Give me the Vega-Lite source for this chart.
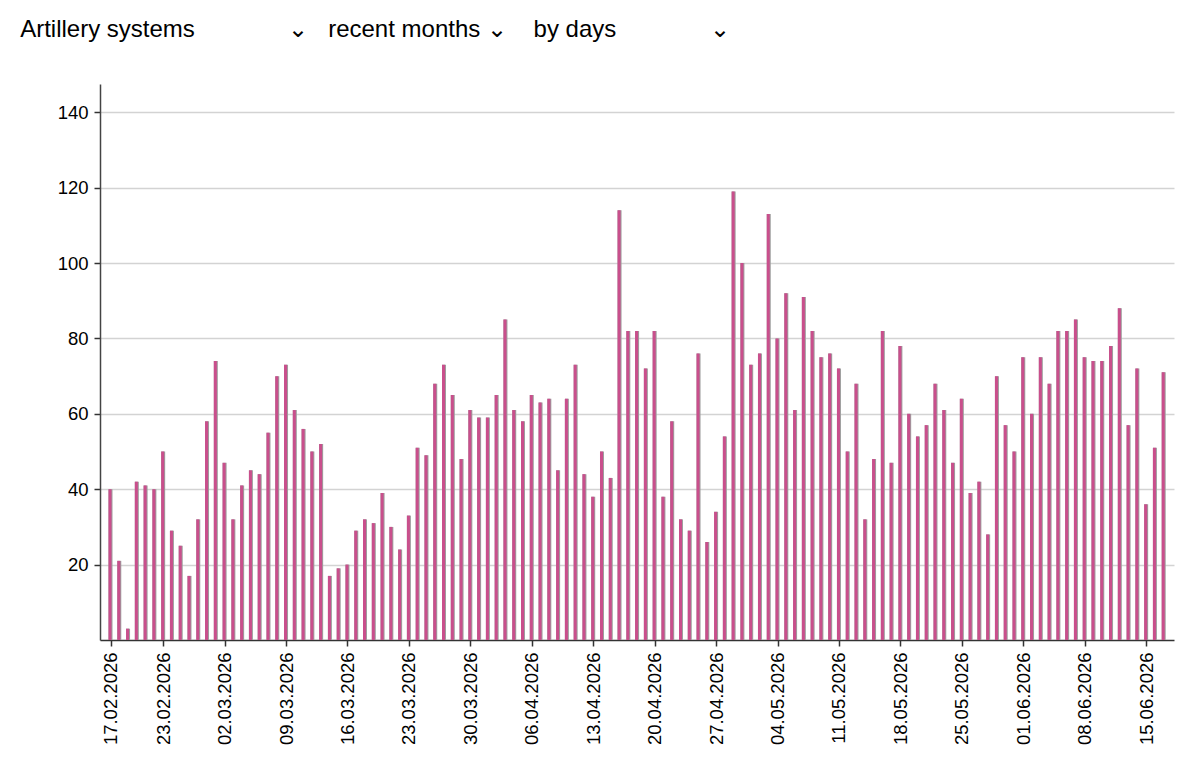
{
  "$schema": "https://vega.github.io/schema/vega-lite/v6.json",
  "width": 1074,
  "height": 556,
  "autosize": {"type": "none"},
  "padding": {"left": 100, "top": 84, "right": 26, "bottom": 141},
  "background": "white",
  "config": {
    "font": "Liberation Sans",
    "view": {"stroke": null}
  },
  "title": {
    "text": "Artillery systems\u00a0\u00a0\u00a0\u00a0\u00a0\u00a0\u00a0\u00a0\u00a0\u00a0\u00a0\u00a0\u00a0\u00a0⌄\u00a0\u00a0\u00a0recent months\u00a0⌄\u00a0\u00a0\u00a0\u00a0by days\u00a0\u00a0\u00a0\u00a0\u00a0\u00a0\u00a0\u00a0\u00a0\u00a0\u00a0\u00a0\u00a0\u00a0⌄",
    "anchor": "start",
    "fontSize": 24,
    "fontWeight": "normal",
    "color": "#000000",
    "font": "Liberation Sans",
    "baseline": "alphabetic",
    "offset": 0,
    "dx": -37,
    "dy": -23
  },
  "data": {
    "values": [
      {"date": "2026-02-17", "value": 40}, {"date": "2026-02-18", "value": 21}, {"date": "2026-02-19", "value": 3},
      {"date": "2026-02-20", "value": 42}, {"date": "2026-02-21", "value": 41}, {"date": "2026-02-22", "value": 40},
      {"date": "2026-02-23", "value": 50}, {"date": "2026-02-24", "value": 29}, {"date": "2026-02-25", "value": 25},
      {"date": "2026-02-26", "value": 17}, {"date": "2026-02-27", "value": 32}, {"date": "2026-02-28", "value": 58},
      {"date": "2026-03-01", "value": 74}, {"date": "2026-03-02", "value": 47}, {"date": "2026-03-03", "value": 32},
      {"date": "2026-03-04", "value": 41}, {"date": "2026-03-05", "value": 45}, {"date": "2026-03-06", "value": 44},
      {"date": "2026-03-07", "value": 55}, {"date": "2026-03-08", "value": 70}, {"date": "2026-03-09", "value": 73},
      {"date": "2026-03-10", "value": 61}, {"date": "2026-03-11", "value": 56}, {"date": "2026-03-12", "value": 50},
      {"date": "2026-03-13", "value": 52}, {"date": "2026-03-14", "value": 17}, {"date": "2026-03-15", "value": 19},
      {"date": "2026-03-16", "value": 20}, {"date": "2026-03-17", "value": 29}, {"date": "2026-03-18", "value": 32},
      {"date": "2026-03-19", "value": 31}, {"date": "2026-03-20", "value": 39}, {"date": "2026-03-21", "value": 30},
      {"date": "2026-03-22", "value": 24}, {"date": "2026-03-23", "value": 33}, {"date": "2026-03-24", "value": 51},
      {"date": "2026-03-25", "value": 49}, {"date": "2026-03-26", "value": 68}, {"date": "2026-03-27", "value": 73},
      {"date": "2026-03-28", "value": 65}, {"date": "2026-03-29", "value": 48}, {"date": "2026-03-30", "value": 61},
      {"date": "2026-03-31", "value": 59}, {"date": "2026-04-01", "value": 59}, {"date": "2026-04-02", "value": 65},
      {"date": "2026-04-03", "value": 85}, {"date": "2026-04-04", "value": 61}, {"date": "2026-04-05", "value": 58},
      {"date": "2026-04-06", "value": 65}, {"date": "2026-04-07", "value": 63}, {"date": "2026-04-08", "value": 64},
      {"date": "2026-04-09", "value": 45}, {"date": "2026-04-10", "value": 64}, {"date": "2026-04-11", "value": 73},
      {"date": "2026-04-12", "value": 44}, {"date": "2026-04-13", "value": 38}, {"date": "2026-04-14", "value": 50},
      {"date": "2026-04-15", "value": 43}, {"date": "2026-04-16", "value": 114}, {"date": "2026-04-17", "value": 82},
      {"date": "2026-04-18", "value": 82}, {"date": "2026-04-19", "value": 72}, {"date": "2026-04-20", "value": 82},
      {"date": "2026-04-21", "value": 38}, {"date": "2026-04-22", "value": 58}, {"date": "2026-04-23", "value": 32},
      {"date": "2026-04-24", "value": 29}, {"date": "2026-04-25", "value": 76}, {"date": "2026-04-26", "value": 26},
      {"date": "2026-04-27", "value": 34}, {"date": "2026-04-28", "value": 54}, {"date": "2026-04-29", "value": 119},
      {"date": "2026-04-30", "value": 100}, {"date": "2026-05-01", "value": 73}, {"date": "2026-05-02", "value": 76},
      {"date": "2026-05-03", "value": 113}, {"date": "2026-05-04", "value": 80}, {"date": "2026-05-05", "value": 92},
      {"date": "2026-05-06", "value": 61}, {"date": "2026-05-07", "value": 91}, {"date": "2026-05-08", "value": 82},
      {"date": "2026-05-09", "value": 75}, {"date": "2026-05-10", "value": 76}, {"date": "2026-05-11", "value": 72},
      {"date": "2026-05-12", "value": 50}, {"date": "2026-05-13", "value": 68}, {"date": "2026-05-14", "value": 32},
      {"date": "2026-05-15", "value": 48}, {"date": "2026-05-16", "value": 82}, {"date": "2026-05-17", "value": 47},
      {"date": "2026-05-18", "value": 78}, {"date": "2026-05-19", "value": 60}, {"date": "2026-05-20", "value": 54},
      {"date": "2026-05-21", "value": 57}, {"date": "2026-05-22", "value": 68}, {"date": "2026-05-23", "value": 61},
      {"date": "2026-05-24", "value": 47}, {"date": "2026-05-25", "value": 64}, {"date": "2026-05-26", "value": 39},
      {"date": "2026-05-27", "value": 42}, {"date": "2026-05-28", "value": 28}, {"date": "2026-05-29", "value": 70},
      {"date": "2026-05-30", "value": 57}, {"date": "2026-05-31", "value": 50}, {"date": "2026-06-01", "value": 75},
      {"date": "2026-06-02", "value": 60}, {"date": "2026-06-03", "value": 75}, {"date": "2026-06-04", "value": 68},
      {"date": "2026-06-05", "value": 82}, {"date": "2026-06-06", "value": 82}, {"date": "2026-06-07", "value": 85},
      {"date": "2026-06-08", "value": 75}, {"date": "2026-06-09", "value": 74}, {"date": "2026-06-10", "value": 74},
      {"date": "2026-06-11", "value": 78}, {"date": "2026-06-12", "value": 88}, {"date": "2026-06-13", "value": 57},
      {"date": "2026-06-14", "value": 72}, {"date": "2026-06-15", "value": 36}, {"date": "2026-06-16", "value": 51},
      {"date": "2026-06-17", "value": 71}
    ]
  },
  "encoding": {
    "x": {
      "field": "date",
      "type": "temporal",
      "title": null,
      "scale": {
        "type": "utc",
        "nice": false,
        "padding": 0,
        "domain": [
          {"year": 2026, "month": 2, "date": 15, "hours": 19, "minutes": 17, "utc": true},
          {"year": 2026, "month": 6, "date": 18, "hours": 4, "minutes": 10, "utc": true}
        ]
      },
      "axis": {
        "values": [
          {"year": 2026, "month": 2, "date": 17, "utc": true},
          {"year": 2026, "month": 2, "date": 23, "utc": true},
          {"year": 2026, "month": 3, "date": 2, "utc": true},
          {"year": 2026, "month": 3, "date": 9, "utc": true},
          {"year": 2026, "month": 3, "date": 16, "utc": true},
          {"year": 2026, "month": 3, "date": 23, "utc": true},
          {"year": 2026, "month": 3, "date": 30, "utc": true},
          {"year": 2026, "month": 4, "date": 6, "utc": true},
          {"year": 2026, "month": 4, "date": 13, "utc": true},
          {"year": 2026, "month": 4, "date": 20, "utc": true},
          {"year": 2026, "month": 4, "date": 27, "utc": true},
          {"year": 2026, "month": 5, "date": 4, "utc": true},
          {"year": 2026, "month": 5, "date": 11, "utc": true},
          {"year": 2026, "month": 5, "date": 18, "utc": true},
          {"year": 2026, "month": 5, "date": 25, "utc": true},
          {"year": 2026, "month": 6, "date": 1, "utc": true},
          {"year": 2026, "month": 6, "date": 8, "utc": true},
          {"year": 2026, "month": 6, "date": 15, "utc": true}
        ],
        "format": "%d.%m.%Y",
        "labelAngle": -90,
        "labelFontSize": 18.5,
        "labelColor": "#000000",
        "labelPadding": 6,
        "tickSize": 6,
        "tickColor": "#333333",
        "domainColor": "#333333",
        "domainWidth": 1.5,
        "tickWidth": 1.5,
        "grid": false,
        "labelOverlap": false,
        "labelFlush": false
      }
    },
    "y": {
      "field": "value",
      "type": "quantitative",
      "title": null,
      "scale": {"domain": [0, 147.5], "nice": false, "zero": true},
      "axis": {
        "values": [20, 40, 60, 80, 100, 120, 140],
        "labelFontSize": 18.5,
        "labelColor": "#000000",
        "labelPadding": 6,
        "tickSize": 6,
        "tickColor": "#333333",
        "domainColor": "#444444",
        "domainWidth": 1.5,
        "tickWidth": 1.5,
        "grid": true,
        "gridColor": "#d3d3d3",
        "gridWidth": 1.5
      }
    }
  },
  "layer": [
    {"mark": {"type": "bar", "width": 4, "color": "#9e9e9e"}},
    {"mark": {"type": "bar", "width": 3, "xOffset": -0.5, "color": "#C94F8C"}}
  ]
}
